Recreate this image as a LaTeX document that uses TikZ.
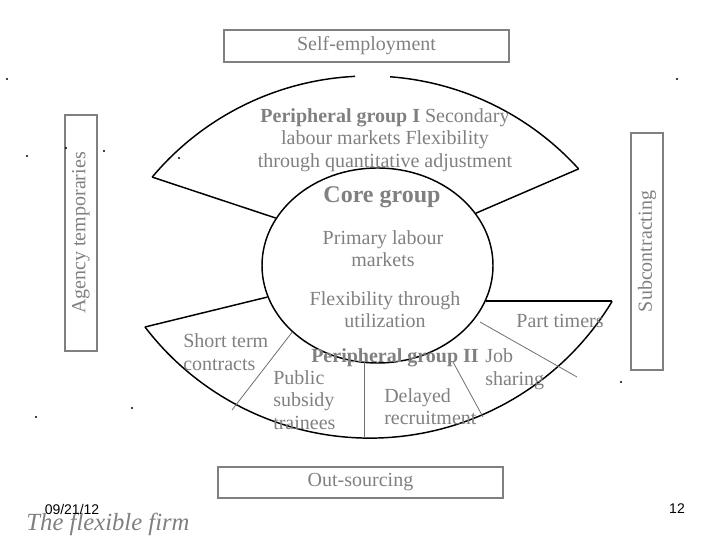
\documentclass[tikz,border=0pt]{standalone}
\usepackage{fontspec}
\setmainfont{Liberation Serif}
\newfontfamily\arialfont{Liberation Sans}
\usetikzlibrary{shapes.geometric}
\definecolor{txtgray}{RGB}{128,128,128}
\definecolor{linegray}{RGB}{110,110,110}
\begin{document}
\begin{tikzpicture}[x=0.75pt,y=0.75pt,
  lbl/.style={text=txtgray,font=\fontsize{15}{17}\selectfont,inner sep=0pt},
  boxed/.style={draw=txtgray,line width=0.8pt,text=txtgray,font=\fontsize{15}{17}\selectfont,inner sep=0pt},
  arcline/.style={line width=1.1pt,black},
  thinline/.style={line width=0.6pt,linegray},
  dotmark/.style={fill=black,inner sep=0pt,minimum size=1.6pt,circle}]
\useasboundingbox (0,0) rectangle (728,546);
% boxes
\node[boxed,minimum width=213.75pt,minimum height=24pt] (self) at (366.5,500) {Self-employment};
\node[boxed,minimum width=213.75pt,minimum height=23.25pt] (out) at (360.5,63.5) {Out-sourcing};
\node[boxed,rotate=90,minimum width=177pt,minimum height=24pt] (agency) at (81,313) {Agency temporaries};
\node[boxed,rotate=90,minimum width=177.75pt,minimum height=24pt] (sub) at (647,294.5) {Subcontracting};
% core ellipse
\node[ellipse,draw,line width=1.1pt,minimum width=173.25pt,minimum height=146.25pt,inner sep=0pt] (core) at (377.5,280.5) {};
% top sector
\coordinate (TL) at (152.2,368.9);
\coordinate (TR) at (578.6,377.1);
\draw[arcline] (TL) arc[start angle=140,end angle=92.8,radius=283];
\draw[arcline] (TR) arc[start angle=42.2,end angle=85.7,radius=283];
\draw[arcline] (TL) -- (core.155);
\draw[arcline] (TR) -- (core.28);
% bottom sector
\coordinate (BL) at (145,219);
\coordinate (BR) at (612,245);
\draw[arcline] (BL) arc[start angle=217.4,end angle=328.9,radius=283];
\draw[arcline] (BL) -- (core.196.5);
\draw[arcline] (BR) -- (BR -| core.342);
% inner dividers
\coordinate (d1a) at (core.218);
\coordinate (d1b) at (232,136);
\coordinate (d2a) at (364,183.7);
\coordinate (d2b) at (364,108);
\coordinate (d3a) at (453,184);
\coordinate (d3b) at (483,129);
\coordinate (d4a) at (480,224);
\coordinate (d4b) at (577,169);
\draw[thinline] (d1a) -- (d1b);
\draw[thinline] (d2a) -- (d2b);
\draw[thinline] (d3a) -- (d3b);
\draw[thinline] (d4a) -- (d4b);
% texts
\node[lbl,align=center] (p1) at (385,406) {\textbf{Peripheral group I} Secondary\\labour markets Flexibility\\through quantitative adjustment};
\node[lbl,font=\fontsize{18}{21}\selectfont\bfseries] (coreg) at (382,349) {Core group};
\node[lbl,align=center] (prim) at (383,297.5) {Primary labour\\markets};
\node[lbl,align=center] (flex) at (385,236.5) {Flexibility through\\utilization};
\node[lbl] (part) at (560,225) {Part timers};
\node[lbl,anchor=west,align=left] (short) at (183,194) {Short term\\contracts};
\node[lbl,anchor=west,font=\fontsize{15}{17}\selectfont\bfseries] (p2) at (311,188) {Peripheral group II};
\node[lbl,anchor=west,align=left] (job) at (485,176.5) {Job\\sharing};
\node[lbl,anchor=west,align=left] (pub) at (273,146) {Public\\subsidy\\trainees};
\node[lbl,anchor=west,align=left] (del) at (384,139.5) {Delayed\\recruitment};
% footer
\node[inner sep=0pt,font=\fontsize{18.5}{21}\selectfont\itshape,text=txtgray] (title) at (108,22) {The flexible firm};
\node[inner sep=0pt,font=\arialfont\fontsize{10.5}{12}\selectfont] (date) at (72,37) {09/21/12};
\node[inner sep=0pt,font=\arialfont\fontsize{10.5}{12}\selectfont] (page) at (677,37) {12};
% stray dots
\node[dotmark] (s1) at (7,467) {};
\node[dotmark] (s2) at (27,390) {};
\node[dotmark] (s3) at (66,398) {};
\node[dotmark] (s4) at (104,395) {};
\node[dotmark] (s5) at (179,388) {};
\node[dotmark] (s6) at (36,129) {};
\node[dotmark] (s7) at (132,138) {};
\node[dotmark] (s8) at (621,164) {};
\node[dotmark] (s9) at (677,467) {};
\end{tikzpicture}
\end{document}
